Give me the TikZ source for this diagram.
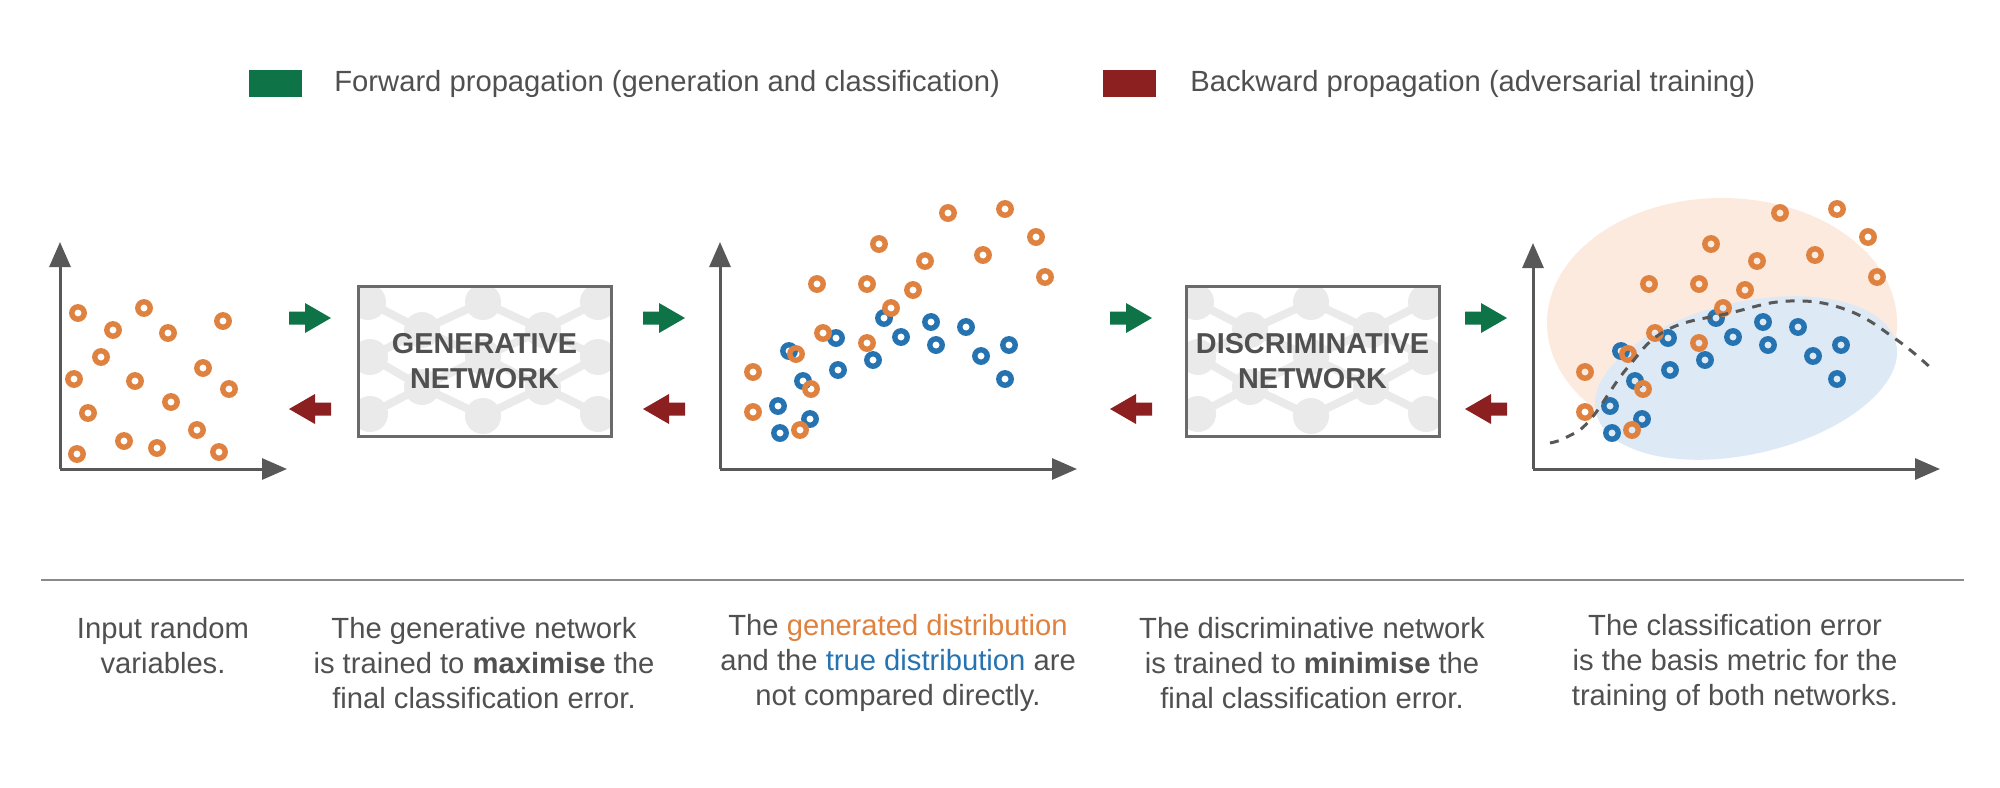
\documentclass[tikz,border=0pt]{standalone}
\usepackage{fontspec}
\setmainfont{Liberation Sans}
\usetikzlibrary{arrows.meta}
\definecolor{txt}{HTML}{505050}
\definecolor{axc}{HTML}{585858}
\definecolor{orng}{HTML}{E0823F}
\definecolor{blu}{HTML}{2673B2}
\definecolor{fwdc}{HTML}{0E7347}
\definecolor{bwdc}{HTML}{8C1F1F}
\definecolor{orbg}{HTML}{FCEADF}
\definecolor{blbg}{HTML}{DDE9F5}
\definecolor{netc}{HTML}{EAEAEA}
\definecolor{boxc}{HTML}{6A6A6A}
\definecolor{sepc}{HTML}{8A8A8A}
\newcommand\mynetpat[2]{%
  \begin{scope}[shift={(#1,#2)}]
    \clip (0,0) rectangle (253,150);
    \draw[netline] (10,16) -- (64,44) -- (125,16) -- (185,44) -- (240,16);
    \draw[netline] (12,71) -- (64,44) -- (125,71) -- (185,44) -- (240,71);
    \draw[netline] (12,71) -- (64,101) -- (125,71) -- (185,101) -- (240,71);
    \draw[netline] (12,128) -- (64,101) -- (125,130) -- (185,101) -- (240,128);
    \foreach \p in {(10,16),(125,16),(240,16),(64,44),(185,44),(12,71),(125,71),(240,71),(64,101),(185,101),(12,128),(125,130),(240,128)}
      \fill[netc] \p circle (9pt);
  \end{scope}}
\newcommand\myfwd[1]{\fill[fwdc, shift={(#1,318)}] (0,-6.5) -- (16,-6.5) -- (16,-15) -- (42,0) -- (16,15) -- (16,6.5) -- (0,6.5) -- cycle;}
\newcommand\mybwd[1]{\fill[bwdc, shift={(#1,409)}] (42,-6.5) -- (26,-6.5) -- (26,-15) -- (0,0) -- (26,15) -- (26,6.5) -- (42,6.5) -- cycle;}
\newcommand\mypoints{%
  \foreach \p in {(884,318),(931,322),(966,327),(836,338),(901,337),(936,345),(1009,345),(789,351),(981,356),(873,360),(838,370),(803,381),(1005,379),(778,406),(810,419),(780,433)}
    \draw[blring] \p circle (3.1pt);
  \foreach \p in {(948,213),(1005,209),(1036,237),(879,244),(925,261),(983,255),(1045,277),(817,284),(867,284),(913,290),(891,308),(823,333),(867,343),(796,354),(753,372),(811,389),(753,412),(800,430)}
    \draw[orring] \p circle (3.1pt);}
\begin{document}
\begin{tikzpicture}[x=0.5pt,y=-0.5pt,
  axis/.style={draw=axc,line width=1.5pt,-{Triangle[width=10.5pt,length=12.5pt]}},
  orring/.style={draw=orng,line width=2.7pt},
  blring/.style={draw=blu,line width=2.7pt},
  netline/.style={draw=netc,line width=4pt},
  netbox/.style={draw=boxc,line width=1.5pt,minimum width=126.5pt,minimum height=75pt,inner sep=0pt,align=center,text=txt,font=\fontsize{14.4}{17.5}\selectfont\bfseries},
  caption/.style={align=center,text=txt,font=\fontsize{14.6}{17.5}\selectfont,inner sep=0pt},
  legtext/.style={anchor=west,text=txt,font=\fontsize{14.6}{17.5}\selectfont,inner sep=0pt},
  legsq/.style={minimum width=26.5pt,minimum height=13.5pt,inner sep=0pt},
  dashc/.style={draw=axc,line width=1.5pt,dash pattern=on 4.5pt off 4pt},
]
\useasboundingbox[fill=white] (0,0) rectangle (2000,787);

% legend
\node[legsq,fill=fwdc] (legf) at (275,83.5) {};
\node[legtext] (legft) at (334,84) {Forward propagation (generation and classification)};
\node[legsq,fill=bwdc] (legb) at (1129.5,83.5) {};
\node[legtext] (legbt) at (1190,84) {Backward propagation (adversarial training)};

% panel 1
\coordinate (o1) at (60,469);
\draw[axis] (o1) -- (60,242);
\draw[axis] (o1) -- (287,469);
\foreach \p in {(78,313),(144,308),(113,330),(168,333),(223,321),(101,357),(74,379),(135,381),(203,368),(229,389),(171,402),(88,413),(197,430),(124,441),(157,448),(77,454),(219,452)}
  \draw[orring] \p circle (3.1pt);

% arrows
\myfwd{289}\mybwd{289}
\myfwd{643}\mybwd{643}
\myfwd{1110}\mybwd{1110}
\myfwd{1465}\mybwd{1465}

% generative network box
\mynetpat{358}{286}
\node[netbox] (gen) at (484.5,361) {GENERATIVE\\NETWORK};

% panel 2
\coordinate (o2) at (720,469);
\draw[axis] (o2) -- (720,242);
\draw[axis] (o2) -- (1077,469);
\mypoints

% discriminative network box
\mynetpat{1186}{286}
\node[netbox] (disc) at (1312.5,361) {DISCRIMINATIVE\\NETWORK};

% panel 3
\fill[orbg] (1722,323) ellipse [x radius=87.5pt, y radius=62.5pt];
\fill[blbg, rotate around={13:(1746,378)}] (1746,378) ellipse [x radius=77pt, y radius=38pt];
\coordinate (o3) at (1533,469);
\draw[axis] (o3) -- (1533,243);
\draw[axis] (o3) -- (1940,469);
\begin{scope}[shift={(832,0)}]
\mypoints
\end{scope}
\draw[dashc] plot[smooth, tension=0.7] coordinates {(1550,443) (1567,437) (1590,420) (1628,367) (1667,330) (1730,313) (1790,301) (1847,310) (1897,340) (1933,370)};

% separator
\draw[sepc,line width=1pt] (41,580) -- (1964,580);

% captions
\node[caption] (cap1) at (163,646) {Input random\\variables.};
\node[caption] (cap2) at (484,663) {The generative network\\is trained to \textbf{maximise} the\\final classification error.};
\node[caption] (cap3) at (898,663) {The {\color{orng}generated distribution}\\and the {\color{blu}true distribution} are\\not compared directly.};
\node[caption] (cap4) at (1312,663) {The discriminative network\\is trained to \textbf{minimise} the\\final classification error.};
\node[caption] (cap5) at (1735,663) {The classification error\\is the basis metric for the\\training of both networks.};
\end{tikzpicture}
\end{document}
